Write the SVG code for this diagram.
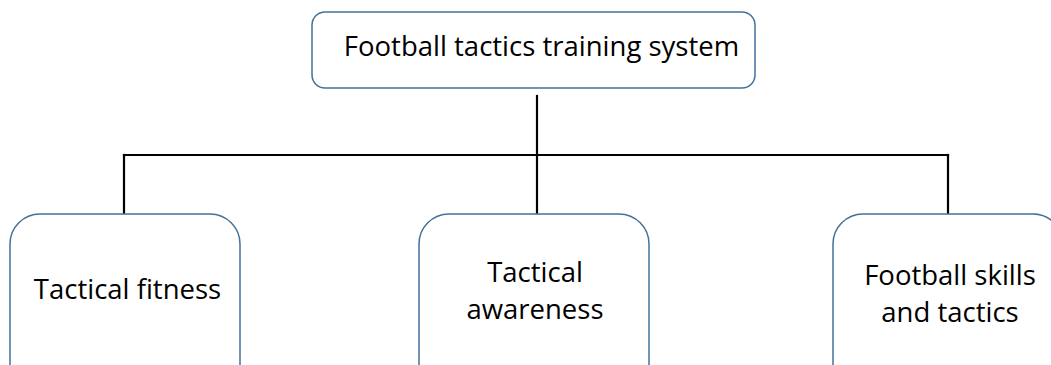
<svg xmlns="http://www.w3.org/2000/svg" width="1051" height="365" viewBox="0 0 1051 365">
  <style>
    .box { fill: #ffffff; stroke: #41719c; stroke-width: 1.5; }
    .lbl { font-family: "Open Sans", "Noto Sans", sans-serif; font-size: 27.5px; fill: #000000; text-anchor: middle; }
    .wire { fill: none; stroke: #000000; stroke-width: 2.2; stroke-linecap: square; }
  </style>
  <rect width="1051" height="365" fill="#ffffff"/>

  <g id="connectors">
    <path class="wire" d="M537 96 V155"/>
    <path class="wire" d="M124 155 H948"/>
    <path class="wire" d="M124 155 V213"/>
    <path class="wire" d="M537 155 V213"/>
    <path class="wire" d="M948 155 V213"/>
  </g>

  <g id="root">
    <rect class="box" x="312" y="12" width="443" height="76" rx="13"/>
    <text class="lbl" x="541.5" y="56">Football tactics training system</text>
  </g>

  <g id="tactical-fitness">
    <rect class="box" x="10" y="214" width="230" height="190" rx="30"/>
    <text class="lbl" x="127.5" y="299">Tactical fitness</text>
  </g>

  <g id="tactical-awareness">
    <rect class="box" x="419" y="214" width="230" height="190" rx="30"/>
    <text class="lbl" x="535" y="282">Tactical</text>
    <text class="lbl" x="535" y="319">awareness</text>
  </g>

  <g id="skills-and-tactics">
    <rect class="box" x="833" y="214" width="230" height="190" rx="30"/>
    <text class="lbl" x="950" y="285">Football skills</text>
    <text class="lbl" x="950" y="322">and tactics</text>
  </g>
</svg>
